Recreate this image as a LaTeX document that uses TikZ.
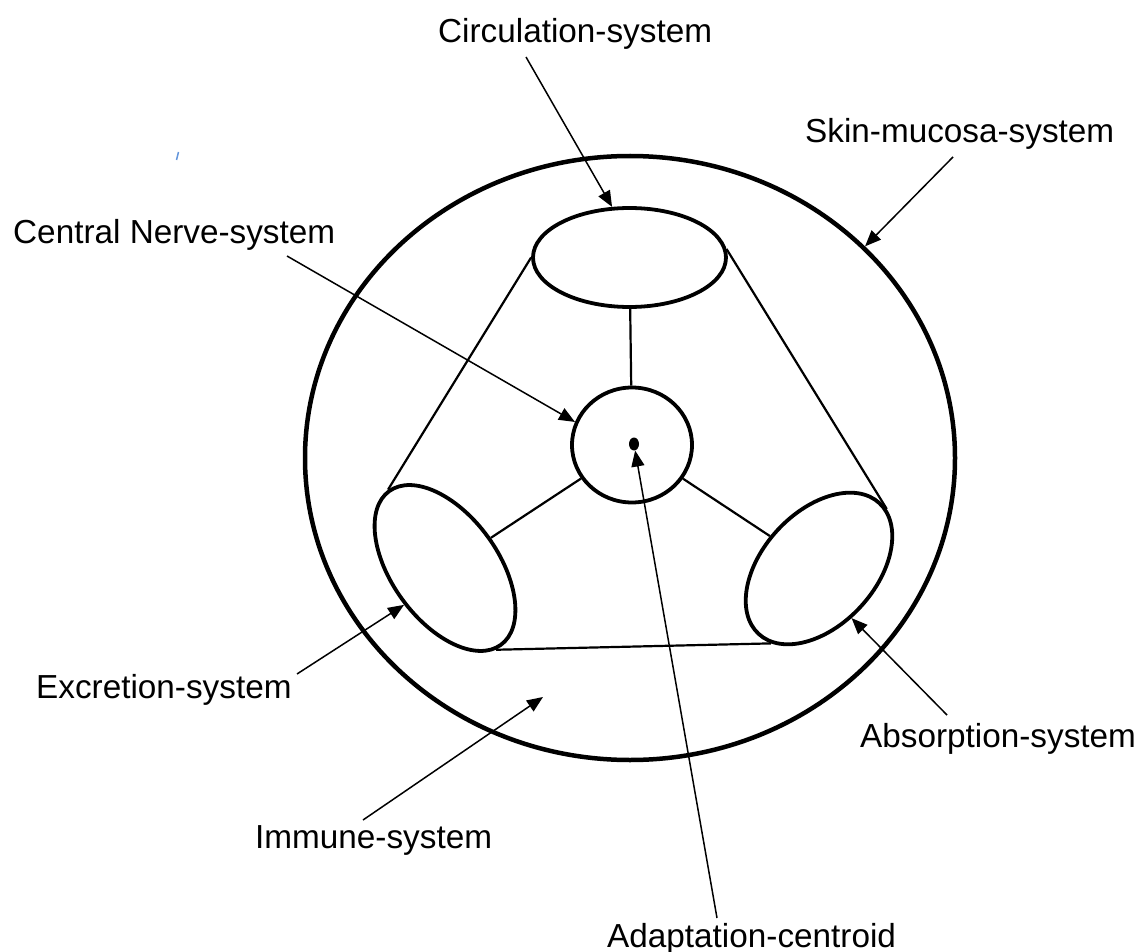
\documentclass[tikz,border=0pt]{standalone}
\usepackage{fontspec}
\setmainfont{Liberation Sans}
\usetikzlibrary{shapes.geometric,arrows.meta}
\definecolor{tickblue}{RGB}{100,150,220}
\begin{document}
\begin{tikzpicture}[x=1pt,y=-1pt,
  shell/.style={draw, ellipse, line width=4.5pt, inner sep=0pt},
  organ/.style={draw, ellipse, line width=3.8pt, inner sep=0pt},
  link/.style={line width=2.2pt},
  pointer/.style={line width=1.5pt, -{Triangle[length=16pt,width=13pt]}},
  lbl/.style={font=\fontsize{33.3}{40}\selectfont, inner sep=0pt, anchor=base west}
]
\useasboundingbox (0,0) rectangle (1141,952);
% shapes
\node[shell, minimum width=650pt, minimum height=604pt] (S) at (630,458) {};
\node[organ, minimum width=193pt, minimum height=99pt] (T) at (629.5,257.5) {};
\node[organ, minimum width=120pt, minimum height=115pt] (C) at (632,445) {};
\node[organ, rotate=126, minimum width=190pt, minimum height=106pt] (L) at (445,568) {};
\node[organ, rotate=47.3, minimum width=178pt, minimum height=113pt] (R) at (819,568.5) {};
\node[fill, ellipse, minimum width=10pt, minimum height=13pt, inner sep=0pt] (D) at (634,444) {};
% links
\draw[link] (T) -- (C);
\draw[link] (C) -- (L);
\draw[link] (C) -- (R);
\draw[link] (T.west) -- (L.east);
\draw[link] (T.5) -- (R.354);
\draw[link] (L.176) -- (R.190);
% labels
\node[lbl] (circ) at (438,43) {Circulation-system};
\node[lbl] (skin) at (805,143) {Skin-mucosa-system};
\node[lbl] (cns) at (13,244) {Central Nerve-system};
\node[lbl] (excr) at (36,698) {Excretion-system};
\node[lbl] (immu) at (255,848) {Immune-system};
\node[lbl] (abso) at (860,747) {Absorption-system};
\node[lbl] (adap) at (607,947) {Adaptation-centroid};
% arrow tails
\coordinate (circT) at (526,57);
\coordinate (skinT) at (953,157);
\coordinate (cnsT) at (287,256);
\coordinate (adapT) at (717,918);
\coordinate (excrT) at (297,674);
\coordinate (immuT) at (363,820);
\coordinate (immuP) at (543,697);
\coordinate (absoT) at (947,715);
% arrows
\draw[pointer] (circT) -- (T.109);
\draw[pointer] (skinT) -- (S.42);
\draw[pointer] (cnsT) -- (C.158);
\draw[pointer] (adapT) -- (D);
\draw[pointer] (excrT) -- (L.96);
\draw[pointer] (immuT) -- (immuP);
\draw[pointer] (absoT) -- (R.256);
% stray tick
\draw[line width=1.5pt, tickblue] (176.5,160) -- (178.5,152);
\end{tikzpicture}
\end{document}
